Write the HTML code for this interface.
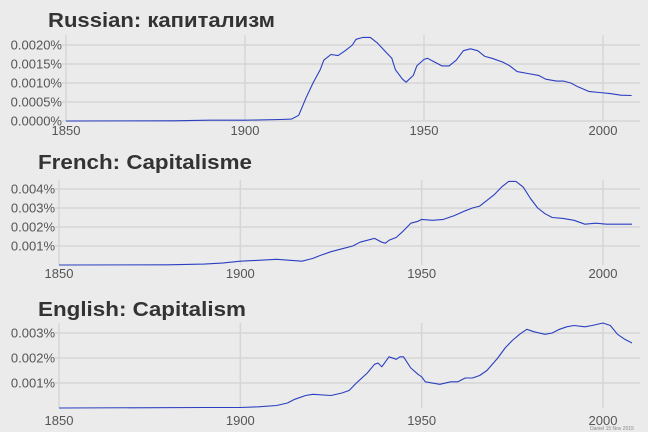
<!DOCTYPE html>
<html><head><meta charset="utf-8">
<style>
html,body{margin:0;padding:0;background:#ebebeb;}
svg{display:block;font-family:"Liberation Sans","DejaVu Sans",sans-serif;}
</style></head>
<body>
<svg id="chart" width="648" height="432" viewBox="0 0 648 432" xmlns="http://www.w3.org/2000/svg">
<rect width="648" height="432" fill="#ebebeb"/>
<text x="590" y="430" font-size="5" fill="#888">Daniel 15 Nov 2015</text>
</svg>
<script>
const xTicks = [1850, 1900, 1950, 2000];

const ruTitle = "Russian: капитализм";
const ruYears = [1850,1880,1890,1900,1910,1913,1915,1917,1919,1921,1922,1924,1926,1928,1930,1931,1933,1935,1937,1939,1941,1942,1944,1945,1947,1948,1950,1951,1953,1955,1957,1959,1961,1963,1965,1967,1969,1972,1974,1976,1979,1982,1984,1987,1989,1991,1993,1996,1999,2002,2005,2008];
const ruValues = [0,0.005,0.02,0.02,0.04,0.05,0.15,0.6,1.0,1.35,1.6,1.75,1.72,1.85,2.0,2.15,2.2,2.2,2.05,1.85,1.65,1.35,1.1,1.02,1.2,1.45,1.62,1.65,1.55,1.45,1.45,1.6,1.85,1.9,1.85,1.7,1.65,1.55,1.45,1.3,1.25,1.2,1.1,1.05,1.05,1.0,0.9,0.78,0.75,0.72,0.68,0.67];
const ruYTicks = [0,0.5,1.0,1.5,2.0];
const ruYLabels = ["0.0000%","0.0005%","0.0010%","0.0015%","0.0020%"];

const frTitle = "French: Capitalisme";
const frYears = [1850,1880,1890,1895,1900,1905,1910,1917,1920,1922,1925,1928,1931,1933,1936,1937,1939,1940,1941,1943,1945,1947,1949,1950,1953,1956,1959,1962,1964,1966,1968,1970,1972,1974,1976,1978,1980,1982,1984,1986,1989,1992,1995,1998,2001,2004,2008];
const frValues = [0,0.01,0.05,0.1,0.2,0.25,0.3,0.2,0.35,0.5,0.7,0.85,1.0,1.2,1.35,1.4,1.2,1.15,1.3,1.45,1.8,2.2,2.3,2.4,2.35,2.4,2.6,2.85,3.0,3.1,3.4,3.7,4.1,4.4,4.4,4.1,3.5,3.0,2.7,2.5,2.45,2.35,2.15,2.2,2.15,2.15,2.15];
const frYTicks = [1,2,3,4];
const frYLabels = ["0.001%","0.002%","0.003%","0.004%"];

const enTitle = "English: Capitalism";
const enYears = [1850,1890,1900,1905,1910,1913,1915,1918,1920,1925,1928,1930,1932,1935,1937,1938,1939,1941,1943,1944,1945,1947,1949,1950,1951,1955,1958,1960,1962,1964,1966,1968,1971,1973,1975,1977,1979,1981,1984,1986,1988,1990,1992,1995,1997,2000,2002,2004,2006,2008];
const enValues = [0,0.02,0.02,0.05,0.1,0.2,0.35,0.5,0.55,0.5,0.6,0.7,1.0,1.4,1.75,1.8,1.65,2.05,1.95,2.05,2.05,1.6,1.35,1.25,1.05,0.95,1.05,1.05,1.2,1.2,1.3,1.5,2.0,2.4,2.7,2.95,3.15,3.05,2.95,3.0,3.15,3.25,3.3,3.25,3.3,3.4,3.3,2.95,2.75,2.6];
const enYTicks = [1,2,3];
const enYLabels = ["0.001%","0.002%","0.003%"];

const svg = document.getElementById('chart');
const NS = "http://www.w3.org/2000/svg";
function mk(tag, attrs, parent){
  const e = document.createElementNS(NS, tag);
  for (const k in attrs) e.setAttribute(k, attrs[k]);
  parent.appendChild(e);
  return e;
}

function panel(key, title, titleX, titleY, titleW, years, values, yTicks, yLabels, box){
  const g = mk('g', {}, svg);
  
  
  const xs = y => box.x0 + (y - 1850) / 150 * (box.x1 - box.x0);
  const ys = v => box.yZero - v * box.yStep;
  const t = mk('text', {x: titleX, y: titleY, 'font-size': 20, 'font-weight': 'bold', fill: '#333', textLength: titleW, lengthAdjust: 'spacingAndGlyphs'}, g);
  t.textContent = title;
  
  
  xTicks.forEach(yr => {
    const l = mk('line', {x1: xs(yr), x2: xs(yr), y1: box.top, y2: box.bottom, stroke: '#d6d6d6', 'stroke-width': 1.5}, g);
    
    
    const tl = mk('text', {x: xs(yr), y: box.xLabelY, 'font-size': 13, fill: '#555', 'text-anchor': 'middle'}, g);
    tl.textContent = yr;
    
    
  });
  yTicks.forEach((v, i) => {
    const l = mk('line', {x1: box.x0 - 4, x2: box.right, y1: ys(v), y2: ys(v), stroke: '#d6d6d6', 'stroke-width': 1.5}, g);
    
    
    const tl = mk('text', {x: box.x0 - 4, y: ys(v) + 4.5, 'font-size': 13, fill: '#555', 'text-anchor': 'end'}, g);
    tl.textContent = yLabels[i];
    
    
  });
  const d = years.map((yr, i) => (i ? 'L' : 'M') + xs(yr).toFixed(1) + ',' + ys(values[i]).toFixed(1)).join(' ');
  const p = mk('path', {d: d, fill: 'none', stroke: '#2a3fc1', 'stroke-width': 1.1, 'stroke-linejoin': 'round'}, g);
  
  
}

panel('russian', ruTitle, 48, 27, 227, ruYears, ruValues, ruYTicks, ruYLabels,
  {x0: 66, x1: 603, yZero: 121, yStep: 38, top: 35, bottom: 121, right: 640, xLabelY: 135});
panel('french', frTitle, 38, 169, 214, frYears, frValues, frYTicks, frYLabels,
  {x0: 59, x1: 603, yZero: 265, yStep: 19, top: 180, bottom: 265, right: 640, xLabelY: 278});
panel('english', enTitle, 38, 316, 208, enYears, enValues, enYTicks, enYLabels,
  {x0: 59, x1: 603, yZero: 408, yStep: 25, top: 323, bottom: 408, right: 640, xLabelY: 425});
</script>
</body></html>
